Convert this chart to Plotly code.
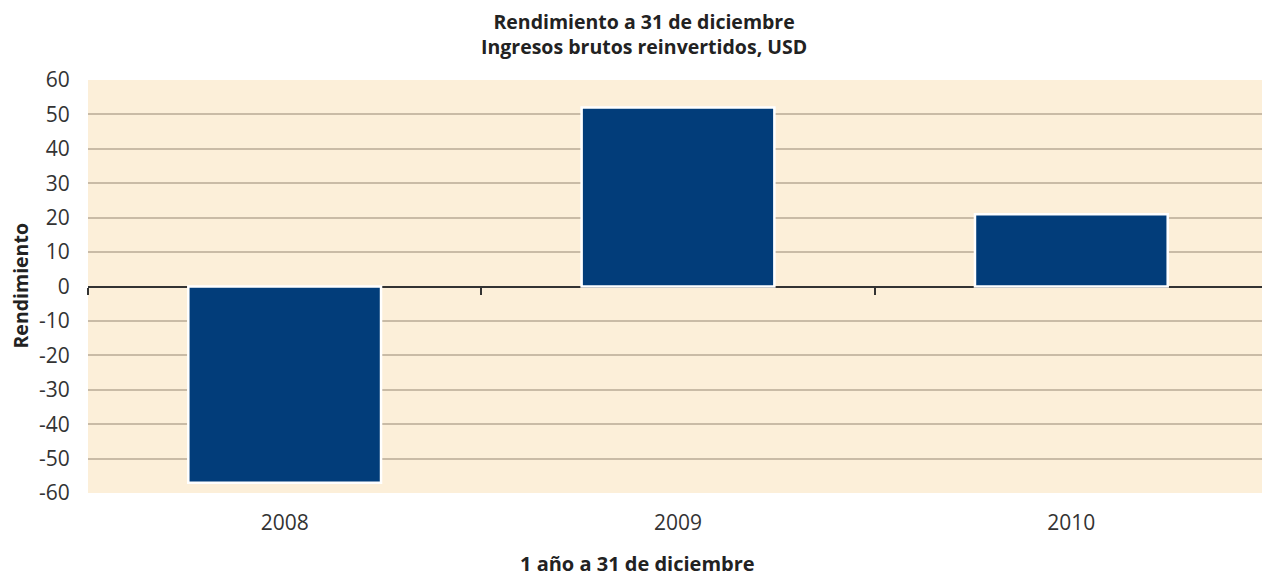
import plotly.graph_objects as go

years = ["2008", "2009", "2010"]
returns = [-57, 52, 21]
y_ticks = [60, 50, 40, 30, 20, 10, 0, -10, -20, -30, -40, -50, -60]
y_tick_text = [str(v) for v in y_ticks]  # plain hyphen, like the original

title_text = "<b>Rendimiento a 31 de diciembre<br>Ingresos brutos reinvertidos, USD</b>"
x_title = "<b>1 año a 31 de diciembre</b>"
y_title = "<b>Rendimiento</b>"
font_family = "Open Sans, Lato, sans-serif"

fig = go.Figure()
fig.add_trace(go.Bar(
    x=years, y=returns,
    marker=dict(color="#023d7a", line=dict(color="white", width=2.5)),
    width=0.49,
    showlegend=False,
))
# invisible copy on the overlay axis, so that axis gets its categories
fig.add_trace(go.Bar(x=years, y=returns, xaxis="x2", width=0.49, showlegend=False,
                     marker=dict(color="rgba(0,0,0,0)", line=dict(width=0)),
                     hoverinfo="skip"))

# the page body has an 8px margin, so the figure is a bit smaller than the window
fig.update_layout(
    width=1262, height=570,
    margin=dict(l=80, r=2, t=72, b=85, autoexpand=False),
    paper_bgcolor="white",
    plot_bgcolor="#fcefd9",
    barmode="overlay",
    font=dict(family=font_family, size=21, color="#222"),
    xaxis=dict(
        type="category", categoryorder="array", categoryarray=years,
        range=[-0.5, 2.5],
        showgrid=False, zeroline=False, showline=False, automargin=False,
        ticks="outside", ticklen=11, tickcolor="rgba(0,0,0,0)",
        tickfont=dict(size=21, color="#333"),
    ),
    # overlay axis sitting on y=0, only for the little boundary ticks
    xaxis2=dict(
        type="category", categoryorder="array", categoryarray=years,
        overlaying="x", anchor="free", position=0.5, side="bottom",
        range=[-0.5, 2.5], tickson="boundaries",
        showgrid=False, zeroline=False, showline=False, automargin=False,
        ticks="outside", ticklen=7, tickcolor="#333", tickwidth=1.5,
        showticklabels=False,
    ),
    yaxis=dict(
        range=[-60, 60], tickvals=y_ticks, ticktext=y_tick_text,
        showgrid=True, gridcolor="#c9bba6", gridwidth=1.5,
        zeroline=True, zerolinecolor="#333", zerolinewidth=1.5,
        showline=False, automargin=False,
        ticks="outside", ticklen=13, tickcolor="rgba(0,0,0,0)",
        tickfont=dict(size=21, color="#333"),
    ),
)

fig.add_annotation(text=title_text, xref="paper", yref="paper", x=0.4716, y=1,
                   yshift=18, xanchor="center", yanchor="bottom", showarrow=False,
                   font=dict(size=19.5, color="#222"))
fig.add_annotation(text=x_title, xref="paper", yref="paper", x=0.466, y=0,
                   yshift=-70, xanchor="center", yanchor="middle", showarrow=False,
                   font=dict(size=20, color="#222"))
fig.add_annotation(text=y_title, xref="paper", yref="paper", x=0, y=0.5,
                   xshift=-68, xanchor="center", yanchor="middle", textangle=-90,
                   showarrow=False, font=dict(size=19.5, color="#222"))

fig.write_html("out.html")
